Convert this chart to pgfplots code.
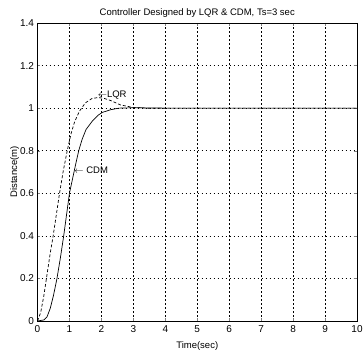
\documentclass[border=0pt]{standalone}
\usepackage{pgfplots}
\pgfplotsset{compat=1.18}
\usepackage{fontspec}
\setmainfont{Liberation Sans}
\begin{document}
\begin{tikzpicture}
\useasboundingbox (-37.5pt,-38pt) rectangle (326.5pt,321pt);
\begin{axis}[
  at={(0,0)}, anchor=south west,
  scale only axis,
  width=319.5pt, height=298pt,
  xmin=0, xmax=10, ymin=0, ymax=1.4,
  xtick={0,1,...,10},
  ytick={0,0.2,0.4,0.6,0.8,1,1.2,1.4},
  yticklabels={0,0.2,0.4,0.6,0.8,1,1.2,1.4},
  /pgf/number format/assume math mode=true,
  tick label style={font=\fontsize{10}{12}\selectfont},
  xticklabel style={yshift=-1pt},
  tick align=inside,
  major tick length=3pt,
  grid=major,
  major grid style={black, line width=0.5pt, dash pattern=on 1.8pt off 2.2pt},
  axis line style={black, line width=0.7pt},
  title={Controller Designed by LQR \& CDM, Ts=3 sec},
  title style={font=\fontsize{9.5}{11}\selectfont, yshift=-4pt},
  xlabel={Time(sec)},
  ylabel={Distance(m)},
  xlabel style={font=\fontsize{9.5}{11}\selectfont, yshift=-2pt},
  ylabel style={font=\fontsize{9.5}{11}\selectfont, yshift=-6pt},
]
\addplot[black, line width=0.7pt, dash pattern=on 3pt off 2pt] coordinates {
(0,0) (0.1,0.04) (0.2,0.12) (0.28,0.2) (0.4,0.32) (0.49,0.4) (0.6,0.51)
(0.69,0.6) (0.8,0.7) (0.93,0.8) (1.05,0.88) (1.16,0.935) (1.31,0.985)
(1.5,1.025) (1.7,1.045) (1.9,1.05) (2.1,1.045) (2.3,1.035) (2.6,1.015)
(3.0,1.003) (3.5,0.999) (4,1.0) (10,1.0)};
\addplot[black, line width=0.7pt] coordinates {
(0,0) (0.2,0.005) (0.3,0.02) (0.4,0.06) (0.5,0.12) (0.61,0.2) (0.72,0.3)
(0.82,0.4) (0.91,0.5) (1.0,0.6) (1.1,0.67) (1.2,0.74) (1.29,0.8)
(1.4,0.855) (1.52,0.9) (1.72,0.94) (1.9,0.967) (2.03,0.98) (2.3,0.993)
(2.55,1.0) (3,1.002) (4,1.0) (10,1.0)};
\node[anchor=west, inner sep=0pt, font=\fontsize{9.5}{11}\selectfont] at (axis cs:1.88,1.06) {$\leftarrow$LQR};
\node[anchor=west, inner sep=0pt, font=\fontsize{9.5}{11}\selectfont] at (axis cs:1.15,0.71) {$\leftarrow$ CDM};
\end{axis}
\end{tikzpicture}
\end{document}
